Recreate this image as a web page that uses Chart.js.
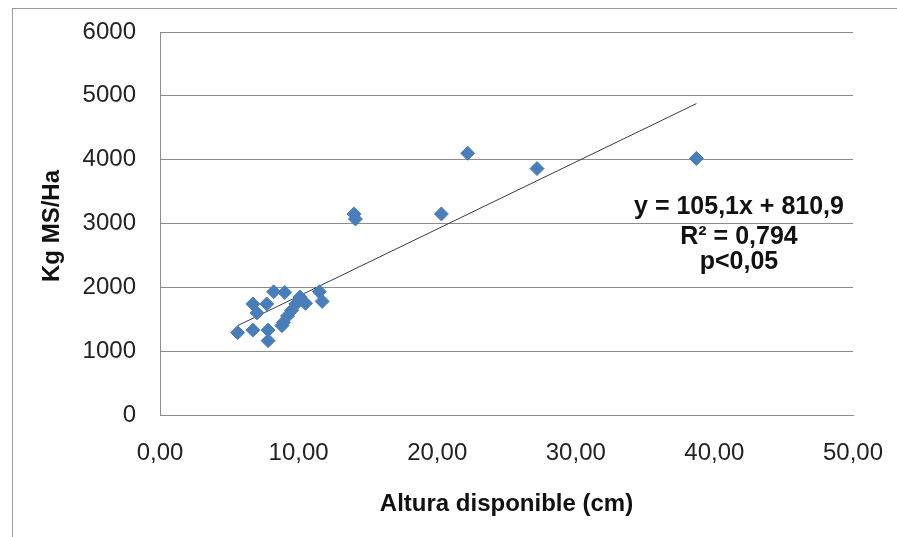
<!DOCTYPE html>
<html>
<head>
<meta charset="utf-8">
<script src="https://cdn.jsdelivr.net/npm/chart.js@4/dist/chart.umd.min.js"></script>
<style>
  html, body { margin: 0; padding: 0; background: #fff; }
  #wrap { position: relative; width: 897px; height: 537px; overflow: hidden; }
  #frame { position: absolute; left: 12px; top: 8px; width: 900px; height: 540px; border: 1px solid #9a9a9a; }
  canvas { position: absolute; left: 0; top: 0; }
</style>
</head>
<body>
<div id="wrap">
  <div id="frame"></div>
  <canvas id="chart" width="897" height="537"></canvas>
</div>
<script>
// altura disponible (cm) vs Kg MS/Ha
const alturaCm = [5.6, 6.7, 6.7, 7.0, 7.7, 7.8, 7.8, 8.2, 9.0, 8.8, 8.9, 9.2, 9.5, 9.8, 10.1, 10.5, 11.5, 11.7, 14.0, 14.1, 20.3, 22.2, 27.2, 38.7];
const kgMsHa   = [1290, 1740, 1330, 1600, 1740, 1330, 1165, 1930, 1920, 1400, 1450, 1550, 1640, 1740, 1850, 1750, 1930, 1780, 3150, 3070, 3150, 4100, 3860, 4020];

// linea de tendencia
const pendiente = 105.1;
const intercepto = 810.9;
const ecuacion = ['y = 105,1x + 810,9', 'R² = 0,794', 'p<0,05'];

const xTicks = [0, 10, 20, 30, 40, 50];
const yTicks = [0, 1000, 2000, 3000, 4000, 5000, 6000];

const puntos = alturaCm.map((x, i) => ({x: x, y: kgMsHa[i]}));
const xMin = Math.min(...alturaCm), xMax = Math.max(...alturaCm);
const tendencia = [xMin, xMax].map(x => ({x: x, y: pendiente * x + intercepto}));

const FONT = '"Liberation Sans", Arial, sans-serif';

// textos: titulos de ejes y ecuacion
Chart.register({
  id: 'textos',
  afterDraw(chart) {
    const {ctx, chartArea: area} = chart;
    ctx.save();
    ctx.fillStyle = '#111';
    ctx.textAlign = 'center';
    ctx.textBaseline = 'middle';
    ctx.font = 'bold 24px ' + FONT;
    ctx.fillText('Altura disponible (cm)', (area.left + area.right) / 2, 504);

    ctx.save();
    ctx.translate(52, 226);
    ctx.rotate(-Math.PI / 2);
    ctx.fillText('Kg MS/Ha', 0, 0);
    ctx.restore();

    ctx.font = 'bold 25px ' + FONT;
    const ys = [207, 237, 262];
    ecuacion.forEach((t, i) => ctx.fillText(t, 739, ys[i]));
    ctx.restore();
  }
});

new Chart(document.getElementById('chart'), {
  type: 'scatter',
  data: {
    datasets: [{
      data: puntos,
      backgroundColor: '#4a7ebb',
      borderColor: '#4a7ebb',
      pointStyle: 'rectRot',
      pointRadius: 7,
      pointHoverRadius: 7
    }, {
      type: 'line',
      data: tendencia,
      borderColor: '#3a3a3a',
      borderWidth: 1,
      pointRadius: 0,
      fill: false
    }]
  },
  options: {
    responsive: false,
    animation: false,
    layout: { padding: { top: 32, right: 44, left: 0, bottom: 0 } },
    plugins: { legend: { display: false }, tooltip: { enabled: false } },
    scales: {
      x: {
        type: 'linear',
        min: 0, max: 50,
        afterBuildTicks: s => { s.ticks = xTicks.map(v => ({value: v})); },
        afterFit: s => { s.height = 122; s.paddingLeft = 0; s.paddingRight = 0; },
        grid: { display: false, drawTicks: false },
        border: { display: true, color: '#8c8c8c' },
        ticks: {
          padding: 24,
          color: '#222',
          font: { family: FONT, size: 24 },
          maxRotation: 0,
          callback: v => v.toFixed(2).replace('.', ',')
        }
      },
      y: {
        min: 0, max: 6000,
        afterBuildTicks: s => { s.ticks = yTicks.map(v => ({value: v})); },
        afterFit: s => { s.width = 160; s.paddingTop = 0; s.paddingBottom = 0; },
        grid: { color: '#8c8c8c', lineWidth: 1, drawTicks: false },
        border: { display: true, color: '#8c8c8c' },
        ticks: {
          padding: 24,
          color: '#222',
          font: { family: FONT, size: 24 },
          callback: v => String(v)
        }
      }
    }
  }
});
</script>
</body>
</html>
